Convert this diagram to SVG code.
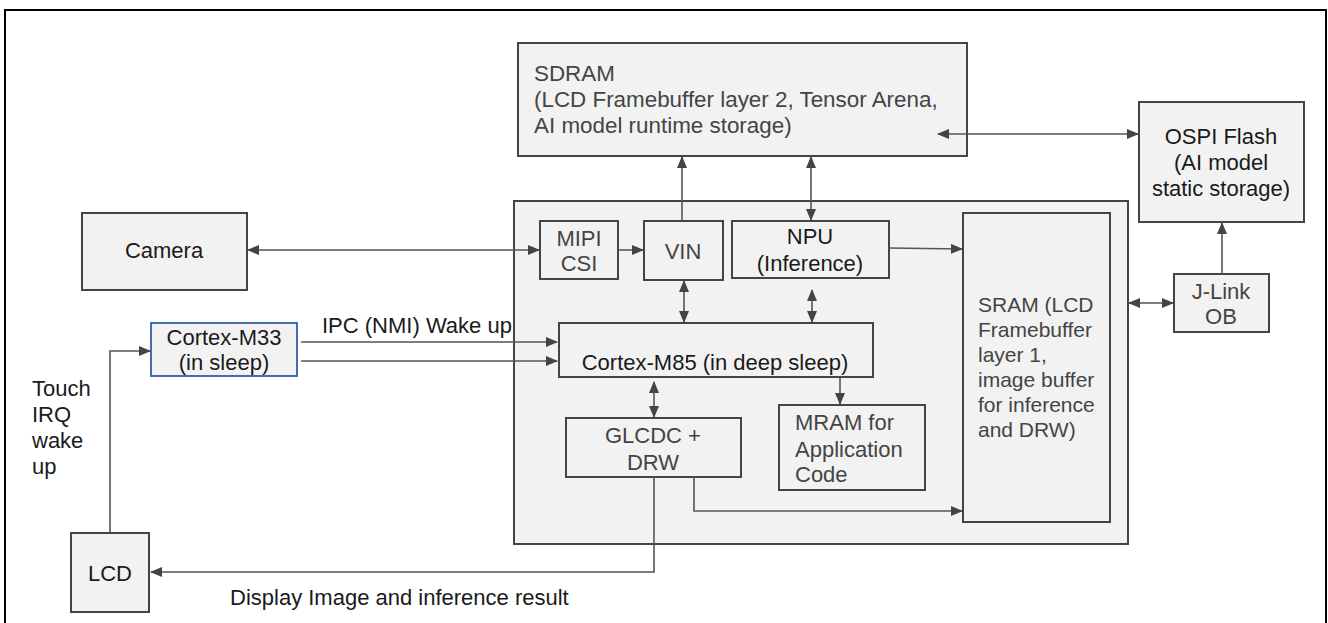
<svg xmlns="http://www.w3.org/2000/svg" width="1328" height="623" viewBox="0 0 1328 623">
<style>
.box{fill:#f2f2f2;stroke:#444;stroke-width:2}
.blue{fill:#f2f2f2;stroke:#2e5fa8;stroke-width:1.8}
.frame{fill:none;stroke:#000;stroke-width:2}
.t{font-family:"Liberation Sans",Arial,sans-serif;font-size:22px;fill:#1a1a1a}
.big{font-size:22.4px}
.sm{font-size:21px}
.g{fill:#444}
.c{text-anchor:middle}
.ln{fill:none;stroke:#555;stroke-width:1.6}
.a{marker-end:url(#ah)}
.d{marker-start:url(#ah);marker-end:url(#ah)}
</style>
<defs>
<marker id="ah" viewBox="0 0 12 10" refX="11" refY="5" markerWidth="12" markerHeight="10" markerUnits="userSpaceOnUse" orient="auto-start-reverse">
<path d="M0,0 L12,5 L0,10 z" fill="#444"/>
</marker>
</defs>
<rect class="frame" x="5" y="10" width="1321" height="620"/>
<g id="mcu"><rect class="box" x="514" y="201" width="614" height="343"/></g>
<g id="sdram"><rect class="box" x="518" y="43" width="449" height="113"/>
<text class="t big g" x="534" y="81">SDRAM</text>
<text class="t big g" x="534" y="107">(LCD Framebuffer layer 2, Tensor Arena,</text>
<text class="t big g" x="534" y="133">AI model runtime storage)</text></g>
<g id="ospi"><rect class="box" x="1139" y="102" width="165" height="120"/>
<text class="t c" x="1221" y="144">OSPI Flash</text>
<text class="t c" x="1221" y="170">(AI model</text>
<text class="t c" x="1221" y="196">static storage)</text></g>
<g id="jlink"><rect class="box" x="1174" y="274" width="95" height="58"/>
<text class="t g c" x="1221" y="299">J-Link</text>
<text class="t g c" x="1221" y="324">OB</text></g>
<g id="camera"><rect class="box" x="82" y="213" width="165" height="77"/>
<text class="t c" x="164" y="258">Camera</text></g>
<g id="m33"><rect class="blue" x="151" y="323" width="146" height="53"/>
<text class="t c" x="224" y="345">Cortex-M33</text>
<text class="t c" x="224" y="370">(in sleep)</text></g>
<g id="lcd"><rect class="box" x="71" y="533" width="78" height="79"/>
<text class="t c" x="110" y="581">LCD</text></g>
<g id="mipi"><rect class="box" x="540" y="221" width="78" height="58"/>
<text class="t g c" x="579" y="246">MIPI</text>
<text class="t g c" x="579" y="271">CSI</text></g>
<g id="vin"><rect class="box" x="644" y="221" width="79" height="59"/>
<text class="t g c" x="683" y="259">VIN</text></g>
<g id="npu"><rect class="box" x="732" y="221" width="157" height="57"/>
<text class="t c" x="810" y="244">NPU</text>
<text class="t c" x="810" y="271">(Inference)</text></g>
<g id="m85"><rect class="box" x="559" y="323" width="314" height="54"/>
<text class="t c" x="715" y="370">Cortex-M85 (in deep sleep)</text></g>
<g id="glcdc"><rect class="box" x="566" y="418" width="175" height="59"/>
<text class="t g c" x="653" y="443">GLCDC +</text>
<text class="t g c" x="653" y="470">DRW</text></g>
<g id="mram"><rect class="box" x="779" y="405" width="146" height="85"/>
<text class="t g" x="795" y="430">MRAM for</text>
<text class="t g" x="795" y="457">Application</text>
<text class="t g" x="795" y="482">Code</text></g>
<g id="sram"><rect class="box" x="963" y="213" width="147" height="309"/>
<text class="t sm g" x="978" y="312">SRAM (LCD</text>
<text class="t sm g" x="978" y="337">Framebuffer</text>
<text class="t sm g" x="978" y="362">layer 1,</text>
<text class="t sm g" x="978" y="387">image buffer</text>
<text class="t sm g" x="978" y="412">for inference</text>
<text class="t sm g" x="978" y="437">and DRW)</text></g>
<g id="labels">
<text class="t" x="322" y="333">IPC (NMI) Wake up</text>
<text class="t" x="32" y="396">Touch</text>
<text class="t" x="32" y="422">IRQ</text>
<text class="t" x="32" y="448">wake</text>
<text class="t" x="32" y="474">up</text>
<text class="t" x="230" y="605">Display Image and inference result</text>
</g>
<g id="connectors">
<line class="ln d" x1="938" y1="134" x2="1138" y2="134"/>
<line class="ln a" x1="1222" y1="274" x2="1222" y2="223"/>
<line class="ln d" x1="1129" y1="303" x2="1173" y2="303"/>
<line class="ln d" x1="248" y1="250" x2="539" y2="250"/>
<line class="ln a" x1="618" y1="250" x2="643" y2="250"/>
<line class="ln a" x1="682" y1="221" x2="682" y2="157"/>
<line class="ln d" x1="811" y1="157" x2="811" y2="220"/>
<line class="ln d" x1="684" y1="281" x2="684" y2="322"/>
<line class="ln d" x1="812" y1="290" x2="812" y2="322"/>
<path class="ln a" d="M889,248 L962,249"/>
<line class="ln a" x1="840" y1="377" x2="840" y2="404"/>
<line class="ln d" x1="654" y1="382" x2="654" y2="417"/>
<path class="ln a" d="M694,477 V511 H962"/>
<path class="ln a" d="M654,477 V572 H151"/>
<path class="ln a" d="M110,533 V351 H150"/>
<line class="ln a" x1="301" y1="342" x2="557" y2="342"/>
<line class="ln a" x1="301" y1="361" x2="557" y2="361"/>
</g>
</svg>
